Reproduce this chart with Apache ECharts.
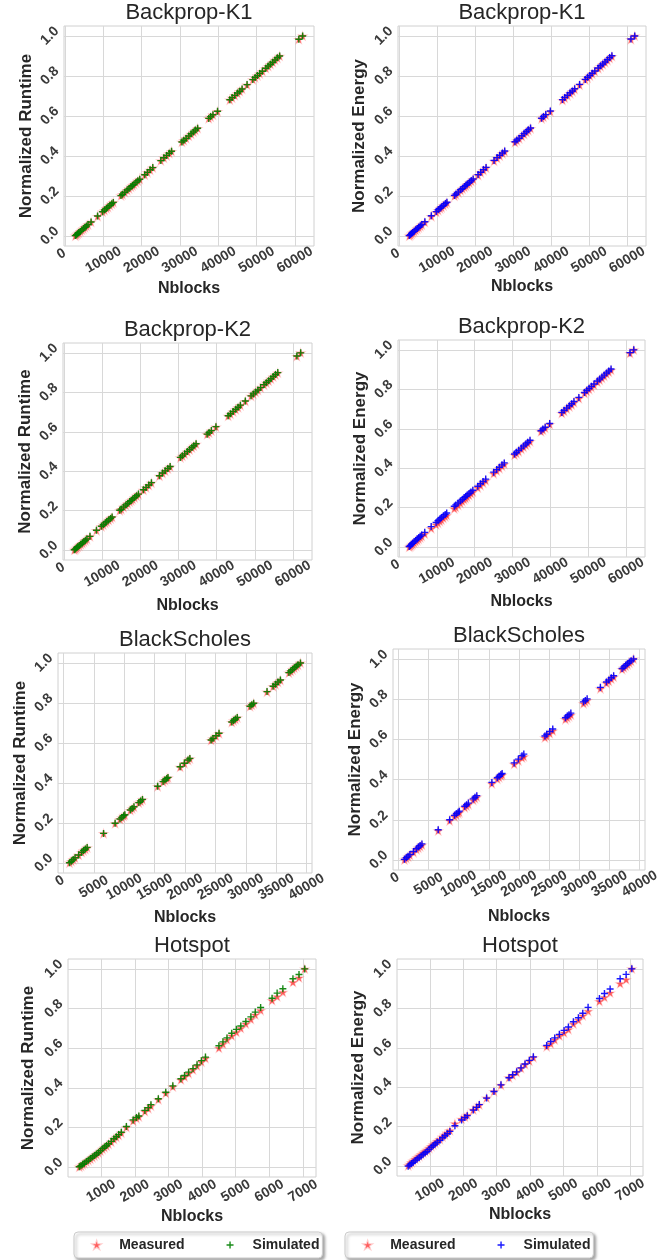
<!DOCTYPE html>
<html>
<head>
<meta charset="utf-8">
<script src="https://cdn.jsdelivr.net/npm/echarts@6/dist/echarts.min.js"></script>
<style>
html,body{margin:0;padding:0;background:#fff;}
#chart{width:667px;height:1260px;}
</style>
</head>
<body>
<div id="chart"></div>
<script>
// ---------------- DATA ----------------
const titles = ['Backprop-K1','Backprop-K1','Backprop-K2','Backprop-K2','BlackScholes','BlackScholes','Hotspot','Hotspot'];
const yLabels = ['Normalized Runtime','Normalized Energy','Normalized Runtime','Normalized Energy','Normalized Runtime','Normalized Energy','Normalized Runtime','Normalized Energy'];
const xLabel = 'Nblocks';
const legendNames = ['Measured','Simulated'];

const bpTicks = [0,10000,20000,30000,40000,50000,60000];
const bsTicks = [0,5000,10000,15000,20000,25000,30000,35000,40000];
const hsTicks = [1000,2000,3000,4000,5000,6000,7000];
const yTicks = [0,0.2,0.4,0.6,0.8,1.0];

const bpX = [2700,3000,3300,3600,4000,4400,4800,5200,5600,6000,6800,8500,9800,10300,10800,11200,11700,12200,12600,14600,15000,15600,16200,16700,17200,17600,18000,18500,19000,19500,20800,21500,22200,22900,25000,25800,26500,27200,27800,30500,31000,31600,32300,32900,33500,34000,34600,37500,38000,38600,39800,43000,43600,44300,45000,45600,46200,47500,49000,49600,50200,50800,51500,52400,53000,53600,54200,54800,55400,56000,61000,62000];

const bpK1RtMeas = [0.000,0.005,0.010,0.015,0.022,0.029,0.035,0.042,0.049,0.056,0.069,0.098,0.120,0.128,0.137,0.143,0.152,0.160,0.167,0.201,0.207,0.218,0.228,0.236,0.245,0.251,0.258,0.266,0.275,0.283,0.305,0.317,0.329,0.341,0.376,0.390,0.401,0.413,0.423,0.469,0.477,0.487,0.499,0.509,0.519,0.528,0.538,0.587,0.595,0.605,0.622,0.680,0.690,0.702,0.713,0.723,0.734,0.755,0.781,0.791,0.801,0.811,0.823,0.838,0.848,0.858,0.868,0.879,0.889,0.899,0.983,1.000];
const bpK1RtSim = [0.002,0.006,0.011,0.017,0.023,0.030,0.037,0.043,0.050,0.058,0.070,0.100,0.121,0.130,0.138,0.145,0.153,0.161,0.168,0.202,0.209,0.219,0.230,0.237,0.246,0.253,0.259,0.268,0.276,0.284,0.306,0.318,0.331,0.342,0.377,0.391,0.403,0.414,0.424,0.470,0.479,0.488,0.500,0.511,0.520,0.530,0.539,0.588,0.597,0.606,0.624,0.681,0.692,0.703,0.715,0.724,0.735,0.757,0.782,0.793,0.802,0.813,0.824,0.839,0.850,0.859,0.869,0.880,0.891,0.900,0.984,1.000];
const bpK1EnMeas = [0.000,0.004,0.010,0.016,0.021,0.028,0.035,0.041,0.048,0.055,0.068,0.097,0.118,0.127,0.136,0.142,0.151,0.159,0.166,0.199,0.206,0.216,0.227,0.235,0.243,0.250,0.257,0.265,0.273,0.282,0.303,0.316,0.328,0.340,0.374,0.388,0.400,0.412,0.421,0.467,0.476,0.486,0.498,0.508,0.518,0.527,0.537,0.586,0.594,0.604,0.621,0.678,0.689,0.701,0.712,0.722,0.733,0.754,0.780,0.790,0.800,0.810,0.822,0.837,0.847,0.857,0.867,0.878,0.888,0.898,0.982,1.000];
const bpK1EnSim = [0.002,0.007,0.012,0.018,0.024,0.031,0.038,0.044,0.051,0.058,0.071,0.101,0.122,0.131,0.139,0.146,0.154,0.162,0.169,0.203,0.210,0.220,0.231,0.238,0.247,0.254,0.260,0.269,0.277,0.285,0.307,0.319,0.332,0.343,0.378,0.392,0.404,0.415,0.425,0.471,0.480,0.489,0.501,0.512,0.521,0.531,0.540,0.589,0.598,0.607,0.625,0.682,0.693,0.704,0.716,0.725,0.736,0.758,0.783,0.794,0.803,0.814,0.825,0.840,0.851,0.860,0.870,0.881,0.892,0.901,0.985,1.000];

const bpK2RtMeas = [0.000,0.004,0.009,0.015,0.021,0.028,0.034,0.041,0.048,0.055,0.068,0.099,0.119,0.127,0.136,0.143,0.151,0.159,0.166,0.200,0.206,0.217,0.227,0.235,0.244,0.250,0.257,0.265,0.274,0.282,0.304,0.316,0.328,0.340,0.375,0.389,0.400,0.412,0.422,0.468,0.476,0.486,0.498,0.508,0.518,0.527,0.537,0.586,0.594,0.604,0.624,0.679,0.689,0.701,0.712,0.722,0.733,0.754,0.780,0.790,0.800,0.810,0.822,0.837,0.847,0.857,0.867,0.878,0.888,0.898,0.982,1.000];
const bpK2RtSim = [0.002,0.006,0.012,0.017,0.023,0.030,0.036,0.043,0.050,0.057,0.070,0.101,0.121,0.129,0.138,0.145,0.153,0.161,0.168,0.202,0.208,0.219,0.229,0.237,0.246,0.252,0.259,0.267,0.276,0.284,0.306,0.318,0.330,0.342,0.377,0.391,0.402,0.414,0.424,0.470,0.478,0.488,0.500,0.510,0.520,0.529,0.539,0.588,0.596,0.606,0.626,0.681,0.691,0.703,0.714,0.724,0.735,0.756,0.782,0.792,0.802,0.812,0.824,0.839,0.849,0.859,0.869,0.880,0.890,0.900,0.984,1.000];
const bpK2EnMeas = [0.000,0.004,0.009,0.014,0.020,0.027,0.033,0.040,0.047,0.054,0.066,0.094,0.113,0.121,0.130,0.137,0.146,0.154,0.161,0.194,0.201,0.212,0.222,0.231,0.240,0.247,0.254,0.262,0.271,0.279,0.300,0.312,0.325,0.337,0.372,0.386,0.398,0.410,0.420,0.466,0.474,0.484,0.496,0.506,0.516,0.525,0.535,0.585,0.593,0.603,0.622,0.678,0.688,0.700,0.711,0.721,0.732,0.753,0.779,0.789,0.799,0.809,0.821,0.836,0.846,0.856,0.866,0.877,0.887,0.897,0.982,1.000];
const bpK2EnSim = [0.003,0.008,0.014,0.020,0.027,0.034,0.041,0.048,0.055,0.062,0.075,0.104,0.125,0.134,0.143,0.150,0.158,0.166,0.173,0.207,0.214,0.224,0.234,0.242,0.250,0.257,0.264,0.272,0.280,0.288,0.309,0.321,0.333,0.345,0.380,0.393,0.405,0.417,0.427,0.472,0.481,0.491,0.502,0.513,0.523,0.532,0.542,0.590,0.599,0.608,0.627,0.683,0.694,0.705,0.717,0.727,0.738,0.759,0.784,0.795,0.805,0.815,0.827,0.842,0.852,0.862,0.872,0.883,0.893,0.903,0.986,1.000];

const bsX = [1000,1300,1600,1900,2500,3000,3300,3600,3900,6600,8500,9300,9600,9900,10100,11000,11300,11600,12400,12700,13000,15500,16400,16700,17000,17200,19200,19900,20500,20800,24300,24600,25100,25600,27700,28000,28300,28600,30700,31000,31300,33500,34500,34900,35300,35700,37100,37400,37700,38000,38300,38600,39000];
const bsRtMeas = [0.000,0.008,0.016,0.024,0.039,0.053,0.061,0.068,0.076,0.147,0.197,0.218,0.226,0.234,0.239,0.263,0.271,0.279,0.300,0.308,0.316,0.382,0.405,0.413,0.421,0.426,0.479,0.497,0.513,0.521,0.613,0.621,0.634,0.647,0.703,0.711,0.718,0.726,0.782,0.789,0.797,0.855,0.882,0.892,0.903,0.913,0.950,0.958,0.966,0.974,0.982,0.989,1.000];
const bsRtSim = [0.001,0.009,0.017,0.026,0.040,0.054,0.063,0.070,0.078,0.148,0.199,0.220,0.228,0.236,0.241,0.265,0.273,0.281,0.302,0.310,0.318,0.384,0.407,0.415,0.423,0.428,0.481,0.499,0.515,0.523,0.615,0.623,0.636,0.649,0.705,0.713,0.720,0.728,0.784,0.791,0.799,0.857,0.884,0.894,0.905,0.915,0.952,0.960,0.968,0.976,0.984,0.991,1.000];
const bsEnMeas = [0.000,0.007,0.015,0.023,0.037,0.051,0.059,0.066,0.074,0.145,0.194,0.215,0.223,0.231,0.236,0.260,0.268,0.276,0.297,0.305,0.313,0.379,0.402,0.410,0.418,0.423,0.476,0.493,0.508,0.514,0.608,0.616,0.629,0.642,0.699,0.707,0.714,0.722,0.778,0.786,0.794,0.852,0.879,0.889,0.900,0.910,0.948,0.956,0.964,0.972,0.980,0.988,1.000];
const bsEnSim = [0.003,0.011,0.019,0.027,0.042,0.056,0.064,0.072,0.080,0.150,0.200,0.222,0.230,0.238,0.243,0.267,0.275,0.283,0.304,0.312,0.320,0.386,0.409,0.417,0.425,0.430,0.483,0.502,0.519,0.527,0.617,0.626,0.639,0.652,0.708,0.716,0.723,0.731,0.787,0.794,0.802,0.859,0.886,0.896,0.907,0.917,0.953,0.961,0.969,0.977,0.985,0.992,1.000];

const hsX = [350,400,450,500,560,620,680,740,800,860,920,980,1040,1100,1160,1220,1300,1380,1450,1520,1600,1750,1950,2050,2120,2300,2400,2480,2700,2920,3130,3370,3480,3600,3730,3850,3980,4100,4500,4620,4740,4880,5020,5150,5300,5450,5580,5740,6080,6230,6400,6700,6880,7050];
const hsRtMeas = [0.000,0.005,0.012,0.018,0.026,0.033,0.040,0.048,0.056,0.063,0.071,0.080,0.090,0.098,0.106,0.115,0.126,0.140,0.150,0.160,0.172,0.200,0.232,0.245,0.254,0.280,0.295,0.308,0.340,0.372,0.405,0.440,0.455,0.472,0.490,0.510,0.530,0.548,0.600,0.620,0.642,0.662,0.680,0.700,0.722,0.745,0.768,0.790,0.840,0.860,0.882,0.932,0.955,1.000];
const hsRtSim = [0.002,0.007,0.014,0.020,0.028,0.035,0.043,0.051,0.058,0.066,0.074,0.083,0.093,0.101,0.109,0.118,0.130,0.143,0.153,0.164,0.176,0.205,0.238,0.250,0.258,0.286,0.300,0.315,0.345,0.378,0.410,0.446,0.462,0.479,0.497,0.516,0.537,0.555,0.612,0.632,0.652,0.675,0.695,0.712,0.735,0.758,0.782,0.805,0.852,0.878,0.900,0.950,0.972,1.000];
const hsEnMeas = [0.002,0.010,0.018,0.026,0.034,0.042,0.050,0.058,0.066,0.073,0.080,0.090,0.100,0.108,0.116,0.125,0.135,0.148,0.158,0.168,0.180,0.215,0.238,0.248,0.258,0.285,0.298,0.310,0.345,0.378,0.410,0.448,0.460,0.475,0.495,0.515,0.532,0.550,0.605,0.620,0.640,0.660,0.675,0.692,0.720,0.740,0.762,0.785,0.835,0.855,0.878,0.925,0.945,1.000];
const hsEnSim = [0.000,0.006,0.013,0.020,0.028,0.036,0.044,0.052,0.060,0.068,0.075,0.085,0.096,0.104,0.112,0.121,0.131,0.144,0.154,0.164,0.176,0.205,0.234,0.246,0.256,0.284,0.298,0.312,0.345,0.378,0.412,0.448,0.463,0.478,0.498,0.518,0.536,0.554,0.612,0.632,0.650,0.668,0.688,0.705,0.732,0.752,0.775,0.805,0.850,0.875,0.898,0.950,0.972,1.000];

// ---------------- STYLE / LAYOUT ----------------
const FONT = '"Liberation Sans", Arial, "DejaVu Sans", sans-serif';
const TXT = '#262626';
const TICKC = '#3a3a3a';
const GRIDC = '#d8d8d8';
const RED = 'rgba(255,10,10,0.85)';
const GREEN = '#008000';
const BLUE = '#0000ff';
const STAR = 'path://M50,0L61.2,34.6L97.6,34.5L68.1,55.9L79.4,90.5L50,69L20.6,90.5L31.9,55.9L2.4,34.5L38.8,34.6Z';
const PLUS = 'path://M40,0H60V40H100V60H60V100H40V60H0V40H40Z';

const panels = [
  {x:bpX, m:bpK1RtMeas, s:bpK1RtSim, sc:GREEN, L:64, T:26, R:314, B:246, xmin:-265, xmax:64965, xt:bpTicks, yo:37, xo:43},
  {x:bpX, m:bpK1EnMeas, s:bpK1EnSim, sc:BLUE, L:398, T:26, R:646, B:246, xmin:-265, xmax:64965, xt:bpTicks, yo:39, xo:40},
  {x:bpX, m:bpK2RtMeas, s:bpK2RtSim, sc:GREEN, L:63, T:343, R:312, B:560, xmin:-265, xmax:64965, xt:bpTicks, yo:38, xo:46},
  {x:bpX, m:bpK2EnMeas, s:bpK2EnSim, sc:BLUE, L:398, T:340, R:645, B:557, xmin:-265, xmax:64965, xt:bpTicks, yo:38, xo:45},
  {x:bsX, m:bsRtMeas, s:bsRtSim, sc:GREEN, L:58, T:653, R:312, B:873, xmin:-900, xmax:40900, xt:bsTicks, yo:35, xo:45},
  {x:bsX, m:bsEnMeas, s:bsEnSim, sc:BLUE, L:393, T:649, R:645, B:870, xmin:-900, xmax:40900, xt:bsTicks, yo:38, xo:47},
  {x:hsX, m:hsRtMeas, s:hsRtSim, sc:GREEN, L:68, T:959, R:316, B:1177, xmin:15, xmax:7385, xt:hsTicks, yo:40, xo:40},
  {x:hsX, m:hsEnMeas, s:hsEnSim, sc:BLUE, L:397, T:959, R:643, B:1176, xmin:15, xmax:7385, xt:hsTicks, yo:39, xo:39}
];

const tickFont = {fontFamily:FONT, fontSize:14, fontWeight:'bold', color:TICKC};
const grid = [], xAxis = [], yAxis = [], series = [], graphic = [];
panels.forEach((p, i) => {
  grid.push({left:p.L, top:p.T, width:p.R-p.L, height:p.B-p.T, show:true, borderColor:'#d0d0d0', borderWidth:1, backgroundColor:'#fff', containLabel:false, outerBoundsMode:'none'});
  xAxis.push({
    type:'value', gridIndex:i, min:p.xmin, max:p.xmax,
    name:xLabel, nameLocation:'middle', nameGap:p.xo-8,
    nameTextStyle:{fontFamily:FONT, fontSize:16, fontWeight:'bold', color:TXT},
    axisLine:{show:false}, axisTick:{show:false, customValues:p.xt},
    splitLine:{show:true, lineStyle:{color:GRIDC, width:1}},
    axisLabel:Object.assign({customValues:p.xt, rotate:30, align:'center', verticalAlign:'middle', margin:14,
      formatter:v => (v === 0 ? '{z|0}' : String(v)),
      rich:{z:Object.assign({padding:[0,0,14,0]}, tickFont)}}, tickFont)
  });
  yAxis.push({
    type:'value', gridIndex:i, min:-0.05, max:1.05,
    name:yLabels[i], nameLocation:'middle', nameGap:p.yo-9,
    nameTextStyle:{fontFamily:FONT, fontSize:17, fontWeight:'bold', color:TXT},
    axisLine:{show:false}, axisTick:{show:false, customValues:yTicks},
    splitLine:{show:true, lineStyle:{color:GRIDC, width:1}},
    axisLabel:Object.assign({customValues:yTicks, rotate:45, align:'center', verticalAlign:'middle', margin:14,
      formatter:v => v.toFixed(1)}, tickFont)
  });
  series.push({
    name:legendNames[0], type:'scatter', xAxisIndex:i, yAxisIndex:i,
    data:p.x.map((v, k) => [v, p.m[k]]),
    symbol:STAR, symbolSize:8, symbolKeepAspect:true,
    itemStyle:{color:RED, borderColor:'rgba(255,110,110,0.45)', borderWidth:1.2}, silent:true, z:2
  });
  series.push({
    name:legendNames[1], type:'scatter', xAxisIndex:i, yAxisIndex:i,
    data:p.x.map((v, k) => [v, p.s[k]]),
    symbol:PLUS, symbolSize:7, symbolKeepAspect:true,
    itemStyle:{color:p.sc, opacity:0.9}, silent:true, z:3
  });
  graphic.push({
    type:'text', x:(p.L+p.R)/2, y:p.T-13,
    style:{text:titles[i], align:'center', verticalAlign:'middle', font:'22px ' + FONT, fill:TXT}
  });
});

const legendBase = {
  top:1232, orient:'horizontal', padding:[6,3,6,18], itemWidth:35, itemHeight:7, itemGap:42,
  backgroundColor:'#fff', borderColor:'#cccccc', borderWidth:1, borderRadius:4,
  shadowBlur:3, shadowColor:'rgba(0,0,0,0.35)', shadowOffsetX:2, shadowOffsetY:2,
  textStyle:{fontFamily:FONT, fontSize:14, fontWeight:'bold', color:TXT},
  selectedMode:false
};
const legend = [
  Object.assign({}, legendBase, {left:74, data:[
    {name:legendNames[0], icon:STAR, itemStyle:{color:RED}},
    {name:legendNames[1], icon:PLUS, itemStyle:{color:GREEN}}]}),
  Object.assign({}, legendBase, {left:345, data:[
    {name:legendNames[0], icon:STAR, itemStyle:{color:RED}},
    {name:legendNames[1], icon:PLUS, itemStyle:{color:BLUE}}]})
];

const chart = echarts.init(document.getElementById('chart'), null, {renderer:'canvas'});
chart.setOption({
  backgroundColor:'#ffffff',
  animation:false,
  grid, xAxis, yAxis, series, legend, graphic
});
</script>
</body>
</html>
